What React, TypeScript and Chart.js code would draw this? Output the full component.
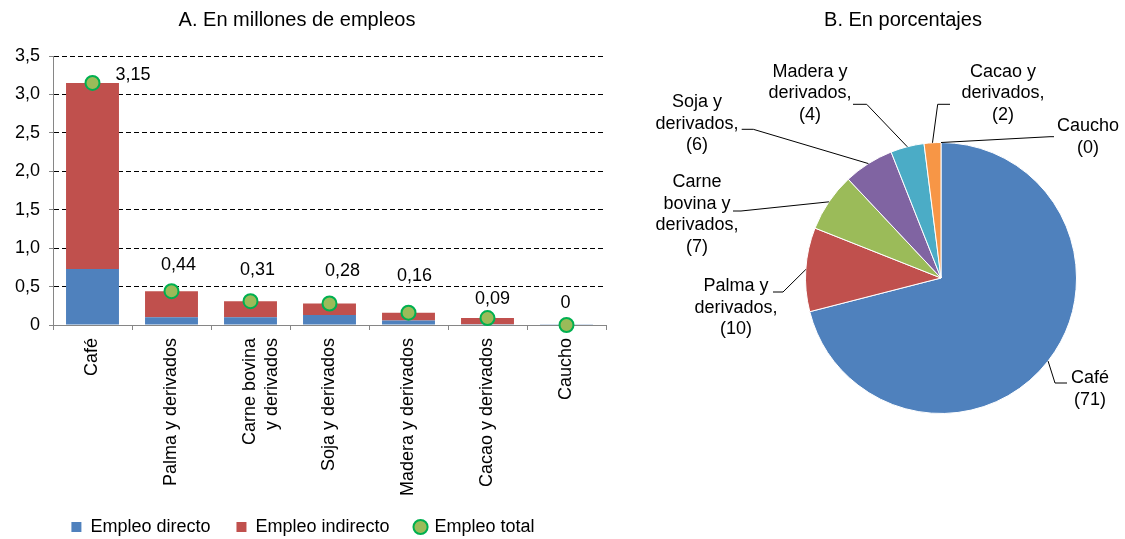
import React, { useEffect, useRef } from 'react';
import { Chart, registerables } from 'chart.js';

Chart.register(...registerables);

const FONT = '"Liberation Sans", Arial, Helvetica, sans-serif';

// ---- Panel A data ----
const categories: (string | string[])[] = [
  'Café',
  'Palma y derivados',
  ['Carne bovina', 'y derivados'],
  'Soja y derivados',
  'Madera y derivados',
  'Cacao y derivados',
  'Caucho',
];
const directValues = [0.73, 0.10, 0.10, 0.13, 0.06, 0.01, 0.003];
const indirectValues = [2.42, 0.34, 0.21, 0.15, 0.10, 0.08, 0];
const totalValues = [3.15, 0.44, 0.31, 0.28, 0.16, 0.09, 0];
const totalLabels = ['3,15', '0,44', '0,31', '0,28', '0,16', '0,09', '0'];
const yTickValues = [0, 0.5, 1, 1.5, 2, 2.5, 3, 3.5];
const yTickLabels = ['0', '0,5', '1,0', '1,5', '2,0', '2,5', '3,0', '3,5'];
const seriesNames = ['Empleo directo', 'Empleo indirecto', 'Empleo total'];

// ---- Panel B data ----
const pieNames: string[][] = [
  ['Café'],
  ['Palma y', 'derivados,'],
  ['Carne', 'bovina y', 'derivados,'],
  ['Soja y', 'derivados,'],
  ['Madera y', 'derivados,'],
  ['Cacao y', 'derivados,'],
  ['Caucho'],
];
const pieValues = [71, 10, 7, 6, 4, 2, 0];
const pieColors = ['#4F81BD', '#C0504D', '#9BBB59', '#8064A2', '#4BACC6', '#F79646', '#2C4D75'];

// label placement (relative to point / pie centre), style config
const totalLabelOffsets: [number, number, CanvasTextAlign][] = [
  [23, -8, 'left'], [7, -26, 'center'], [7, -31, 'center'], [13, -32, 'center'],
  [6, -37, 'center'], [5, -19, 'center'], [-1, -22, 'center'],
];
const pieLabelLayout = [
  { tx: 149, ty: 111, kx: 114, ky: 105, ex: 126, ey: 105 },
  { tx: -205, ty: 30, kx: -158, ky: 14, ex: -168, ey: 14 },
  { tx: -244, ty: -63.5, kx: -200, ky: -67, ex: -208, ey: -67 },
  { tx: -244, ty: -154.3, kx: -187.7, ky: -148.7, ex: -199.3, ey: -148.7 },
  { tx: -131, ty: -184.7, kx: -74.3, ky: -173.7, ex: -88, ey: -173.7 },
  { tx: 62, ty: -184.7, kx: -3.3, ky: -173.7, ex: 9, ey: -173.7 },
  { tx: 147, ty: -141, kx: 109, ky: -141.3, ex: 113, ey: -141.3 },
];

const panelTitle = {
  id: 'panelTitle',
  afterDraw(chart: any, _args: any, opts: any) {
    const ctx = chart.ctx;
    ctx.save();
    ctx.font = `20px ${FONT}`;
    ctx.fillStyle = '#000';
    ctx.textAlign = 'center';
    ctx.textBaseline = 'middle';
    ctx.fillText(opts.text, opts.x, opts.y);
    ctx.restore();
  },
};

// let the rotated category labels use the space next to the legend
const extendLabelArea = {
  id: 'extendLabelArea',
  afterLayout(chart: any) {
    const x = chart.scales.x;
    if (x) x.bottom = chart.height;
  },
};

const totalLabelPlugin = {
  id: 'totalLabels',
  afterDatasetsDraw(chart: any) {
    const ctx = chart.ctx;
    const meta = chart.getDatasetMeta(2);
    ctx.save();
    ctx.font = `18px ${FONT}`;
    ctx.fillStyle = '#000';
    ctx.textBaseline = 'middle';
    meta.data.forEach((pt: any, i: number) => {
      const o = totalLabelOffsets[i];
      ctx.textAlign = o[2];
      ctx.fillText(totalLabels[i], pt.x + o[0], pt.y + o[1]);
    });
    ctx.restore();
  },
};

const pieLabelPlugin = {
  id: 'pieLabels',
  afterDatasetsDraw(chart: any) {
    const ctx = chart.ctx;
    const meta = chart.getDatasetMeta(0);
    ctx.save();
    ctx.font = `18px ${FONT}`;
    ctx.fillStyle = '#000';
    ctx.strokeStyle = '#000';
    ctx.lineWidth = 1;
    ctx.textAlign = 'center';
    ctx.textBaseline = 'middle';
    meta.data.forEach((arc: any, i: number) => {
      const p = arc.getProps(['x', 'y', 'startAngle', 'endAngle', 'outerRadius'], true);
      const mid = (p.startAngle + p.endAngle) / 2;
      const ax = p.x + Math.cos(mid) * p.outerRadius;
      const ay = p.y + Math.sin(mid) * p.outerRadius;
      const L = pieLabelLayout[i];
      ctx.beginPath();
      ctx.moveTo(ax, ay);
      ctx.lineTo(p.x + L.kx, p.y + L.ky);
      ctx.lineTo(p.x + L.ex, p.y + L.ey);
      ctx.stroke();
      const lines = [...pieNames[i], `(${pieValues[i]})`];
      const lh = 21.5;
      lines.forEach((t, j) => {
        ctx.fillText(t, p.x + L.tx, p.y + L.ty + (j - (lines.length - 1) / 2) * lh);
      });
    });
    ctx.restore();
  },
};

export default function App() {
  const barRef = useRef<HTMLCanvasElement>(null);
  const pieRef = useRef<HTMLCanvasElement>(null);

  useEffect(() => {
    Chart.defaults.font.family = FONT;
    Chart.defaults.color = '#000';

    const bar = new Chart(barRef.current!, {
      type: 'bar',
      data: {
        labels: categories as any,
        datasets: [
          {
            label: seriesNames[0],
            data: directValues,
            backgroundColor: '#4F81BD',
            borderWidth: 0,
            barPercentage: 0.67,
            categoryPercentage: 1,
            stack: 'bars',
            order: 1,
          },
          {
            label: seriesNames[1],
            data: indirectValues,
            backgroundColor: '#C0504D',
            borderWidth: 0,
            barPercentage: 0.67,
            categoryPercentage: 1,
            stack: 'bars',
            order: 1,
          },
          {
            type: 'line',
            label: seriesNames[2],
            data: totalValues,
            showLine: false,
            backgroundColor: '#9BBB59',
            borderColor: '#00B050',
            borderWidth: 2,
            pointRadius: 7,
            pointHoverRadius: 7,
            pointBorderWidth: 2,
            pointBackgroundColor: '#9BBB59',
            pointBorderColor: '#00B050',
            stack: 'total',
            order: 0,
            clip: false,
          } as any,
        ],
      },
      options: {
        responsive: false,
        animation: false,
        events: [],
        layout: { padding: { top: 56, right: 9, left: 0, bottom: 0 } },
        scales: {
          x: {
            stacked: true,
            grid: { drawOnChartArea: false, drawTicks: true, tickLength: 5, color: '#868686', offset: true },
            border: { color: '#868686', width: 1 },
            ticks: {
              minRotation: 90,
              maxRotation: 90,
              autoSkip: false,
              padding: 8,
              font: { size: 18 },
              color: '#000',
            },
            afterFit: (s: any) => { s.height = 167; },
          },
          y: {
            stacked: true,
            min: 0,
            max: 3.5,
            afterBuildTicks: (s: any) => { s.ticks = yTickValues.map((v) => ({ value: v })); },
            grid: {
              color: (c: any) => (c.tick && c.tick.value === 0 ? 'rgba(0,0,0,0)' : '#000'),
              lineWidth: 1,
              tickLength: 4,
              tickColor: '#868686',
              tickBorderDash: [],
            },
            border: { color: '#868686', width: 1, dash: [5, 3] },
            ticks: {
              padding: 9,
              font: { size: 18 },
              color: '#000',
              callback: (v: any) => {
                const k = yTickValues.indexOf(Number(v));
                return k >= 0 ? yTickLabels[k] : '';
              },
            },
            afterFit: (s: any) => { s.width = 53; },
          },
        },
        plugins: {
          legend: {
            position: 'bottom',
            labels: {
              usePointStyle: true,
              boxWidth: 10,
              boxHeight: 10,
              padding: 26,
              font: { size: 18 },
              color: '#000',
              sort: (a: any, b: any) => a.datasetIndex - b.datasetIndex,
              generateLabels: (chart: any) => {
                const items = (Chart.defaults.plugins.legend.labels as any).generateLabels(chart);
                items.forEach((it: any) => {
                  if (it.datasetIndex === 2) {
                    it.pointStyle = 'circle';
                  } else {
                    it.pointStyle = 'rect';
                    it.lineWidth = 0;
                  }
                });
                return items;
              },
            },
          },
          tooltip: { enabled: false },
          panelTitle: { text: 'A. En millones de empleos', x: 297, y: 20 },
        } as any,
      },
      plugins: [panelTitle, extendLabelArea, totalLabelPlugin],
    });

    const pie = new Chart(pieRef.current!, {
      type: 'pie',
      data: {
        labels: pieNames.map((n) => n.join(' ')),
        datasets: [
          {
            data: pieValues,
            backgroundColor: pieColors,
            borderColor: '#ffffff',
            borderWidth: 1,
          },
        ],
      },
      options: {
        responsive: false,
        animation: false,
        events: [],
        layout: { padding: { left: 190, right: 48, top: 142, bottom: 125 } },
        plugins: {
          legend: { display: false },
          tooltip: { enabled: false },
          panelTitle: { text: 'B. En porcentajes', x: 288, y: 20 },
        } as any,
      },
      plugins: [panelTitle, pieLabelPlugin],
    });

    return () => {
      bar.destroy();
      pie.destroy();
    };
  }, []);

  return (
    <div
      style={{
        position: 'fixed',
        left: 0,
        top: 0,
        width: 1125,
        height: 539,
        overflow: 'hidden',
        background: '#fff',
      }}
    >
      <canvas
        ref={barRef}
        width={615}
        height={546}
        style={{ position: 'absolute', left: 0, top: 0, width: 615, height: 546 }}
      />
      <canvas
        ref={pieRef}
        width={510}
        height={539}
        style={{ position: 'absolute', left: 615, top: 0, width: 510, height: 539 }}
      />
    </div>
  );
}
